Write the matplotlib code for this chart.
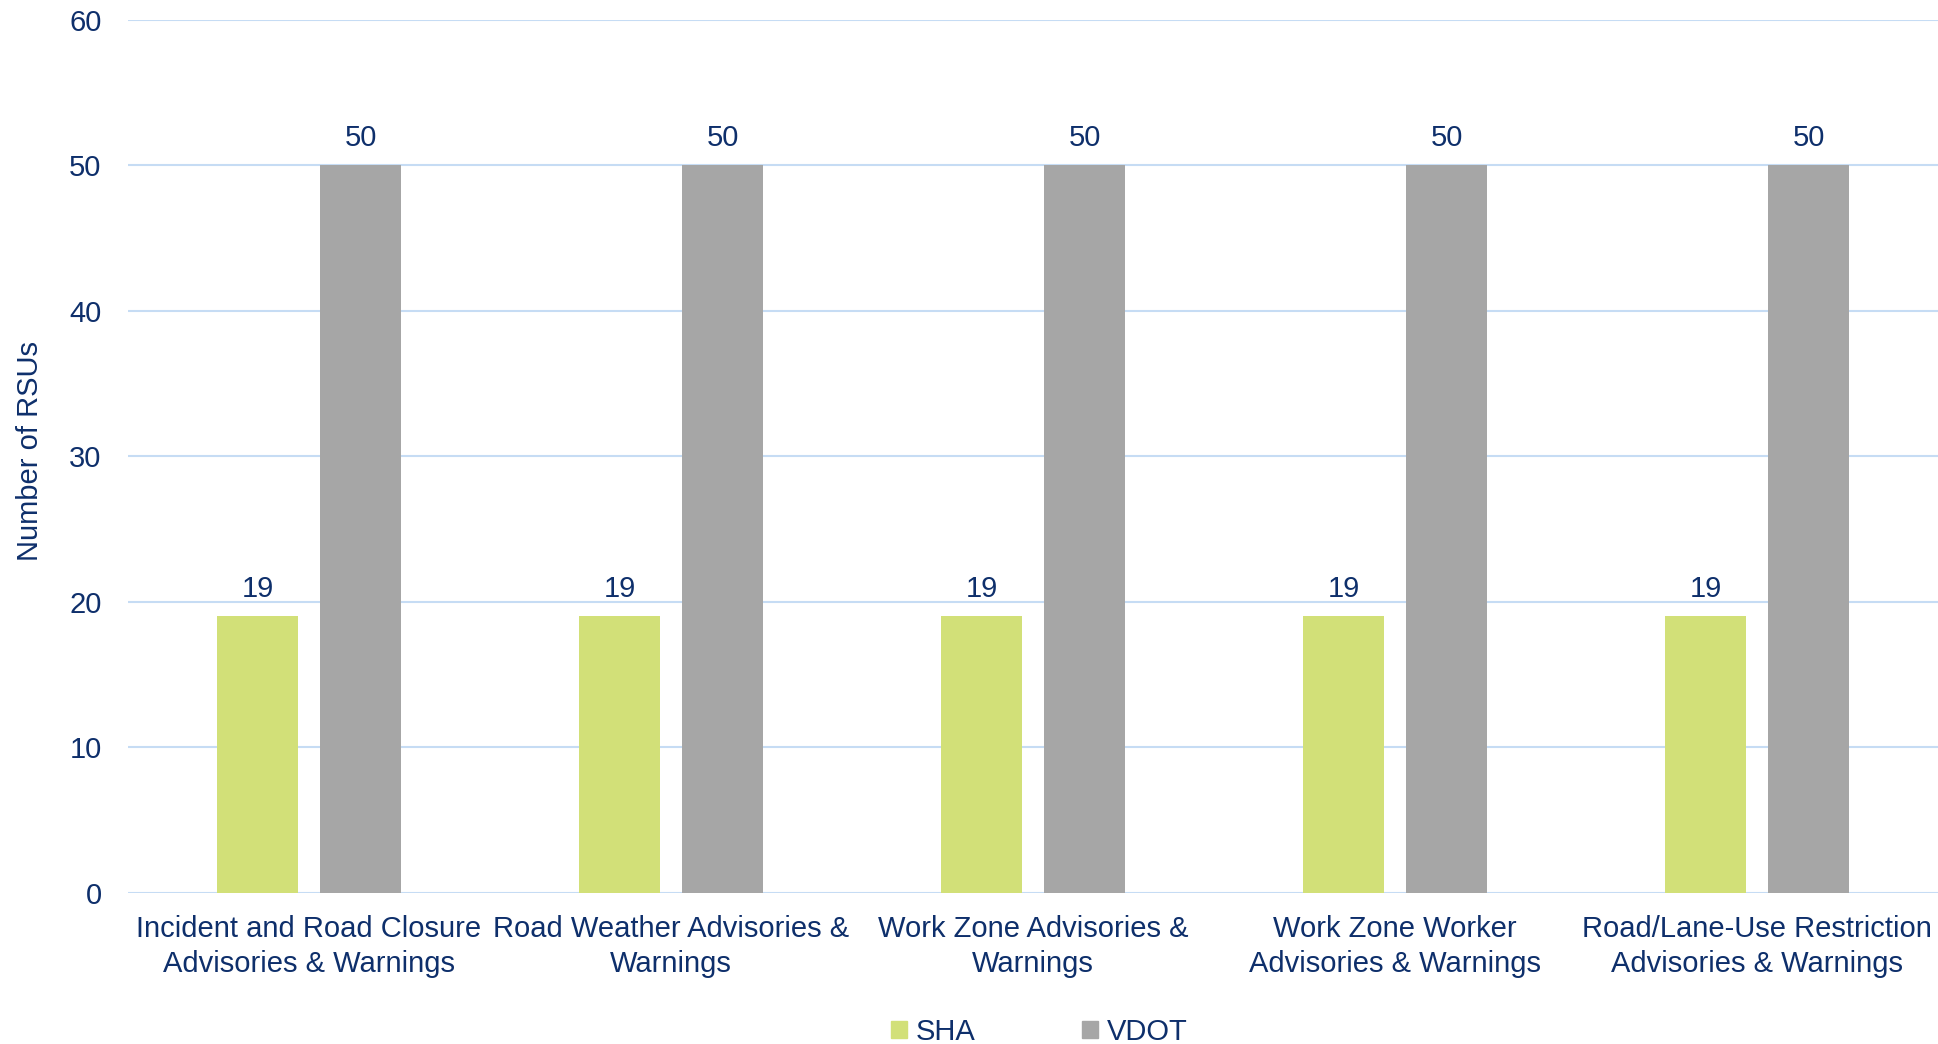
import numpy as np
import matplotlib.pyplot as plt
from matplotlib.patches import Patch

categories = ["Incident and Road Closure\nAdvisories & Warnings",
              "Road Weather Advisories &\nWarnings",
              "Work Zone Advisories &\nWarnings",
              "Work Zone Worker\nAdvisories & Warnings",
              "Road/Lane-Use Restriction\nAdvisories & Warnings"]
sha = [19, 19, 19, 19, 19]
vdot = [50, 50, 50, 50, 50]

txt = '#0E2F6B'
c_sha = '#D2E078'
c_vdot = '#A6A6A6'
grid_c = '#C6DCF4'
fs = 21

plt.rcParams['font.family'] = ['Liberation Sans', 'DejaVu Sans']

fig = plt.figure(figsize=(19.38, 10.44), dpi=100)
ax = fig.add_axes([128 / 1938, 1 - 892.7 / 1044, 1810 / 1938, 873.1 / 1044])

x = np.arange(len(categories))
w = 0.2246
off = 0.1425
b1 = ax.bar(x - off, sha, w, color=c_sha, zorder=3)
b2 = ax.bar(x + off, vdot, w, color=c_vdot, zorder=3)

for bars in (b1, b2):
    for r in bars:
        ax.annotate(str(int(r.get_height())), (r.get_x() + r.get_width() / 2, r.get_height()),
                    xytext=(0, 9.5), textcoords='offset points', ha='center', va='bottom',
                    fontsize=fs, color=txt)

ax.set_xlim(-0.5, len(categories) - 0.5)
ax.set_ylim(0, 60)
ax.set_yticks(range(0, 61, 10))
ax.set_xticks(x)
ax.set_xticklabels(categories, fontsize=fs, color=txt, linespacing=1.3)
ax.tick_params(axis='both', length=0, labelsize=fs, labelcolor=txt)
ax.tick_params(axis='y', pad=19)
ax.tick_params(axis='x', pad=16)
ax.yaxis.grid(True, color=grid_c, linewidth=1.5, zorder=0)
for s in ax.spines.values():
    s.set_visible(False)
ax.set_axisbelow(True)

fig.text(30 / 1938, 1 - 451 / 1044, 'Number of RSUs', rotation=90, ha='center', va='center',
         fontsize=fs, color=txt)

handles = [Patch(color=c_sha, label='SHA'), Patch(color=c_vdot, label='VDOT')]
leg = fig.legend(handles=handles, loc='center', bbox_to_anchor=(1039 / 1938, 1 - 1032 / 1044),
                 ncol=2, frameon=False, fontsize=fs, handlelength=0.55, handleheight=0.55,
                 handletextpad=0.3, columnspacing=3.65)
for t in leg.get_texts():
    t.set_color(txt)

fig.savefig('out.png', dpi=100)
